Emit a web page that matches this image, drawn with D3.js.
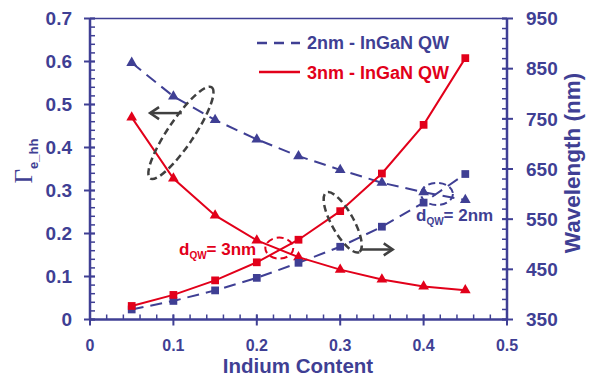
<!DOCTYPE html>
<html>
<head>
<meta charset="utf-8">
<script src="https://cdn.jsdelivr.net/npm/d3@7"></script>
<style>
  body { margin: 0; background: #fff; }
  text { font-family: "Liberation Sans", Arial, sans-serif; font-weight: bold; }
</style>
</head>
<body>
<div id="chart"></div>
<script>
  var width = 592;
  var height = 377;

  // data
  var indium = [0.05, 0.1, 0.15, 0.2, 0.25, 0.3, 0.35, 0.4, 0.45];
  var gamma2nm = [0.597, 0.519, 0.464, 0.419, 0.380, 0.348, 0.318, 0.296, 0.278];
  var gamma3nm = [0.470, 0.328, 0.242, 0.184, 0.145, 0.116, 0.093, 0.077, 0.068];
  var wave2nm = [370, 387, 408, 433, 463, 495, 535, 583, 640];
  var wave3nm = [377, 399, 428, 464, 509, 566, 641, 738, 871];
  var xTicks = [0, 0.1, 0.2, 0.3, 0.4, 0.5];
  var yTicks = [0, 0.1, 0.2, 0.3, 0.4, 0.5, 0.6, 0.7];
  var wTicks = [350, 450, 550, 650, 750, 850, 950];
  var legendLabels = ['2nm - InGaN QW', '3nm - InGaN QW'];

  var blue = '#3f3f94';
  var red = '#e2001a';
  var grey = '#404040';

  var x = d3.scaleLinear().domain([0, 0.5]).range([90, 507]);
  var y = d3.scaleLinear().domain([0, 0.7]).range([319.5, 18.5]);
  var yw = d3.scaleLinear().domain([350, 950]).range([319.5, 18.5]);

  var svg = d3.select('#chart')
    .append('svg')
    .attr('width', width)
    .attr('height', height);

  // frame top line
  svg.append('line')
    .attr('x1', x(0)).attr('x2', x(0.5))
    .attr('y1', y(0.7)).attr('y2', y(0.7))
    .attr('stroke', blue).attr('stroke-width', 1.5);

  // minor ticks
  var xMinor = d3.range(0, 0.5001, 0.02);
  var yMinor = d3.range(0, 0.7001, 0.02);
  var wMinor = d3.range(350, 950.1, 20);

  svg.selectAll('.xminor').data(xMinor).enter().append('line')
    .attr('x1', function(d) { return x(d); }).attr('x2', function(d) { return x(d); })
    .attr('y1', y(0)).attr('y2', y(0) - 5)
    .attr('stroke', blue).attr('stroke-width', 1.5);
  svg.selectAll('.yminor').data(yMinor).enter().append('line')
    .attr('x1', x(0)).attr('x2', x(0) + 5)
    .attr('y1', function(d) { return y(d); }).attr('y2', function(d) { return y(d); })
    .attr('stroke', blue).attr('stroke-width', 1.5);
  svg.selectAll('.wminor').data(wMinor).enter().append('line')
    .attr('x1', x(0.5)).attr('x2', x(0.5) - 5)
    .attr('y1', function(d) { return yw(d); }).attr('y2', function(d) { return yw(d); })
    .attr('stroke', blue).attr('stroke-width', 1.5);

  // major ticks
  svg.selectAll('.xmajor').data(xTicks).enter().append('line')
    .attr('x1', function(d) { return x(d); }).attr('x2', function(d) { return x(d); })
    .attr('y1', y(0) - 5).attr('y2', y(0) + 6)
    .attr('stroke', blue).attr('stroke-width', 2);
  svg.selectAll('.ymajor').data(yTicks).enter().append('line')
    .attr('x1', x(0) - 6).attr('x2', x(0) + 5)
    .attr('y1', function(d) { return y(d); }).attr('y2', function(d) { return y(d); })
    .attr('stroke', blue).attr('stroke-width', 2);
  svg.selectAll('.wmajor').data(wTicks).enter().append('line')
    .attr('x1', x(0.5) - 5).attr('x2', x(0.5) + 6)
    .attr('y1', function(d) { return yw(d); }).attr('y2', function(d) { return yw(d); })
    .attr('stroke', blue).attr('stroke-width', 2);

  // axis lines
  svg.append('line').attr('x1', x(0)).attr('x2', x(0.5)).attr('y1', y(0)).attr('y2', y(0))
    .attr('stroke', blue).attr('stroke-width', 2.5);
  svg.append('line').attr('x1', x(0)).attr('x2', x(0)).attr('y1', y(0)).attr('y2', y(0.7))
    .attr('stroke', blue).attr('stroke-width', 2.5);
  svg.append('line').attr('x1', x(0.5)).attr('x2', x(0.5)).attr('y1', y(0)).attr('y2', y(0.7))
    .attr('stroke', blue).attr('stroke-width', 2.5);

  // tick labels
  svg.selectAll('.xlab').data(xTicks).enter().append('text')
    .attr('x', function(d) { return x(d); }).attr('y', 350.5)
    .attr('text-anchor', 'middle').attr('font-size', 16).attr('fill', blue)
    .text(function(d) { return d === 0 ? '0' : d3.format('.1f')(d); });
  svg.selectAll('.ylab').data(yTicks).enter().append('text')
    .attr('x', 72).attr('y', function(d) { return y(d) + 6.8; })
    .attr('text-anchor', 'end').attr('font-size', 19).attr('fill', blue)
    .text(function(d) { return d === 0 ? '0' : d3.format('.1f')(d); });
  svg.selectAll('.wlab').data(wTicks).enter().append('text')
    .attr('x', 526).attr('y', function(d) { return yw(d) + 6.8; })
    .attr('text-anchor', 'start').attr('font-size', 19).attr('fill', blue)
    .text(function(d) { return d; });

  // axis titles
  svg.append('text')
    .attr('x', 298).attr('y', 372.5)
    .attr('text-anchor', 'middle').attr('font-size', 20.5).attr('fill', blue)
    .text('Indium Content');
  svg.append('text')
    .attr('transform', 'translate(580,163) rotate(-90)')
    .attr('text-anchor', 'middle').attr('font-size', 22.5).attr('fill', blue)
    .text('Wavelength (nm)');
  var gt = svg.append('text')
    .attr('transform', 'translate(32,161) rotate(-90)')
    .attr('text-anchor', 'middle').attr('fill', blue);
  gt.append('tspan')
    .style('font-family', '"Liberation Serif", "Times New Roman", serif')
    .style('font-weight', 'normal')
    .attr('font-size', 25).text('\u0393');
  gt.append('tspan').attr('dy', 6).attr('font-size', 13).text('e_hh');

  // series lines
  var line = function(ys, scale) {
    return d3.line()
      .x(function(d, i) { return x(indium[i]); })
      .y(function(d) { return scale(d); })(ys);
  };

  svg.append('path').attr('d', line(gamma2nm, y))
    .attr('fill', 'none').attr('stroke', blue).attr('stroke-width', 2)
    .attr('stroke-dasharray', '12,7');
  svg.append('path').attr('d', line(wave2nm, yw))
    .attr('fill', 'none').attr('stroke', blue).attr('stroke-width', 2)
    .attr('stroke-dasharray', '12,7');
  svg.append('path').attr('d', line(gamma3nm, y))
    .attr('fill', 'none').attr('stroke', red).attr('stroke-width', 2);
  svg.append('path').attr('d', line(wave3nm, yw))
    .attr('fill', 'none').attr('stroke', red).attr('stroke-width', 2);

  // markers
  var tri = d3.symbol().type(d3.symbolTriangle).size(50);
  var sq = d3.symbol().type(d3.symbolSquare).size(60);

  function markers(ys, scale, sym, color) {
    svg.append('g').selectAll('path').data(ys).enter().append('path')
      .attr('d', sym)
      .attr('transform', function(d, i) {
        return 'translate(' + x(indium[i]) + ',' + scale(d) + ')';
      })
      .attr('fill', color);
  }
  markers(gamma2nm, y, tri, blue);
  markers(gamma3nm, y, tri, red);
  markers(wave2nm, yw, sq, blue);
  markers(wave3nm, yw, sq, red);

  // legend
  svg.append('line').attr('x1', 257).attr('x2', 300).attr('y1', 43).attr('y2', 43)
    .attr('stroke', blue).attr('stroke-width', 2.5).attr('stroke-dasharray', '10,7');
  svg.append('text').attr('x', 307).attr('y', 48.5).attr('font-size', 18).attr('fill', blue)
    .text(legendLabels[0]);
  svg.append('line').attr('x1', 259).attr('x2', 300).attr('y1', 72).attr('y2', 72)
    .attr('stroke', red).attr('stroke-width', 2.5);
  svg.append('text').attr('x', 307).attr('y', 79).attr('font-size', 18).attr('fill', red)
    .text(legendLabels[1]);

  // annotations: ellipses and arrows
  function ellipse(cx, cy, rx, ry, angle, color, w) {
    svg.append('ellipse')
      .attr('cx', 0).attr('cy', 0).attr('rx', rx).attr('ry', ry)
      .attr('transform', 'translate(' + x(cx) + ',' + y(cy) + ') rotate(' + angle + ')')
      .attr('fill', 'none').attr('stroke', color).attr('stroke-width', w)
      .attr('stroke-dasharray', '7,4');
  }
  ellipse(0.109, 0.434, 55, 13, -56, grey, 2.5);
  ellipse(0.303, 0.226, 34, 11, 61, grey, 2.5);
  ellipse(0.227, 0.166, 14, 10.5, 0, red, 2);
  ellipse(0.416, 0.292, 16, 11, 0, blue, 2);

  function arrow(x0, x1, yv, dir) {
    var px0 = x(x0), px1 = x(x1), py = y(yv);
    svg.append('line').attr('x1', px0).attr('x2', px1).attr('y1', py).attr('y2', py)
      .attr('stroke', grey).attr('stroke-width', 2.5);
    svg.append('path')
      .attr('d', 'M' + (px1 - dir * 9) + ',' + (py - 6) + 'L' + px1 + ',' + py + 'L' + (px1 - dir * 9) + ',' + (py + 6))
      .attr('fill', 'none').attr('stroke', grey).attr('stroke-width', 2.5);
  }
  arrow(0.11, 0.072, 0.48, -1);
  arrow(0.324, 0.363, 0.163, 1);

  // d_QW labels
  function dLabel(px, py, val, color) {
    var t = svg.append('text').attr('x', px).attr('y', py).attr('fill', color).attr('font-size', 17);
    t.append('tspan').text('d');
    t.append('tspan').attr('dy', 4).attr('font-size', 10).text('QW');
    t.append('tspan').attr('dy', -4).text('= ' + val);
  }
  dLabel(179, 255, '3nm', red);
  dLabel(416, 220.5, '2nm', blue);
</script>
</body>
</html>
